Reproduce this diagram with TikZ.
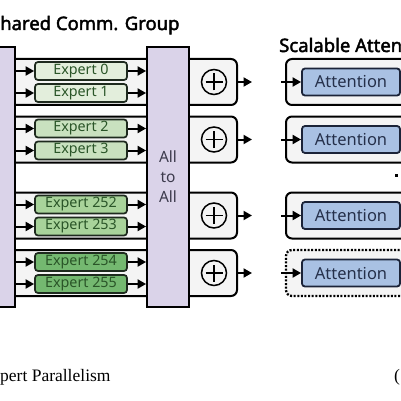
\documentclass[tikz,border=0pt]{standalone}
\usepackage{fontspec}
\setmainfont{Noto Sans}
\newfontfamily\headfont{Noto Sans}[FakeBold=2.2]
\newfontfamily\capfont{Liberation Serif}
\usetikzlibrary{arrows.meta}

\definecolor{barpurple}{HTML}{DAD3E9}
\definecolor{bartext}{HTML}{3C3A4C}
\definecolor{framegray}{HTML}{F4F4F4}
\definecolor{expA}{HTML}{E3EEDC}
\definecolor{expB}{HTML}{C9E1BF}
\definecolor{expC}{HTML}{A8D39A}
\definecolor{expD}{HTML}{74B870}
\definecolor{expline}{HTML}{1E2A1E}
\definecolor{exptext}{HTML}{2A5528}
\definecolor{attfill}{HTML}{A9C1E3}
\definecolor{attline}{HTML}{1B2338}
\definecolor{atttext}{HTML}{25304A}

\tikzset{
  title/.style={font=\headfont\fontsize{18.5}{18.5}\selectfont, inner sep=0pt},
  caption/.style={font=\capfont\fontsize{17.5}{17.5}\selectfont, inner sep=0pt},
  bar/.style={draw=black, fill=barpurple, line width=1.8pt, minimum height=260pt, inner sep=0pt},
  frame/.style={draw=black, fill=framegray, line width=2pt, rounded corners=6pt, minimum height=46pt, inner sep=0pt},
  dotframe/.style={dash pattern=on 2pt off 1.6pt, line width=2.3pt},
  expert/.style={draw=expline, line width=1.7pt, rounded corners=3pt, minimum width=92pt, minimum height=18pt,
    inner sep=0pt, text=exptext, font=\fontsize{14.3}{14.3}\selectfont},
  attn/.style={draw=attline, fill=attfill, line width=1.8pt, rounded corners=3pt, minimum width=98pt,
    minimum height=27pt, inner sep=0pt, text=atttext, font=\fontsize{16.5}{16.5}\selectfont},
  sum/.style={circle, draw=black, line width=1.5pt, minimum size=25pt, inner sep=0pt,
    path picture={\draw[line width=1.5pt]
      ([xshift=-8.5pt]path picture bounding box.center) -- ([xshift=8.5pt]path picture bounding box.center)
      ([yshift=-8.5pt]path picture bounding box.center) -- ([yshift=8.5pt]path picture bounding box.center);}},
  flow/.style={-{Triangle[length=8.5pt,width=9pt]}, line width=2pt},
}

\begin{document}
\begin{tikzpicture}[x=1pt, y=-1pt]
  \useasboundingbox (0,0) rectangle (401,401);
  \clip (0,0) rectangle (401,401);

  % headings
  \node[title, anchor=base west] (commtitle) at (0,30) {hared Comm. Group};
  \node[title, anchor=base west] (attntitle) at (279,52) {Scalable Atten};

  % group frames, sums and attention blocks
  \foreach \i/\y/\dsh in {1/82/solid, 2/139.5/solid, 3/215.5/solid, 4/273/dotframe}{
    \node[frame, minimum width=232pt] (grp\i) at (121,\y) {};
    \node[sum] (sum\i) at (214,\y) {};
    \node[frame, \dsh, minimum width=134pt] (blk\i) at (353,\y) {};
    \node[attn] (att\i) at (351,\y) {Attention};
    \coordinate (out\i) at (252,\y);
    \coordinate (in\i) at (281,\y);
    \draw[flow] (grp\i.east) -- (out\i);
    \draw[flow] (in\i) -- (att\i);
  }

  % all-to-all bars
  \node[bar, minimum width=40pt] (lbar) at (-5,177) {};
  \node[bar, minimum width=42pt, align=center, text=bartext,
        font=\fontsize{15.5}{20}\selectfont] (mid) at (168,177) {All\\to\\All};

  % experts
  \foreach \i/\y/\a/\b/\fc in {1/82/0/1/expA, 2/139.5/2/3/expB, 3/215.5/252/253/expC, 4/273/254/255/expD}{
    \node[expert, fill=\fc] (ex\a) at (81,\y-11) {Expert \a};
    \node[expert, fill=\fc] (ex\b) at (81,\y+11) {Expert \b};
    \foreach \e in {\a,\b}{
      \draw[flow] (lbar.east |- ex\e) -- (ex\e);
      \draw[flow] (ex\e) -- (mid.west |- ex\e);
    }
  }

  \node[fill=black, minimum size=3pt, inner sep=0pt] (vdot) at (396,175) {};

  % caption
  \node[caption, anchor=base west] (eptext) at (0,381) {pert Parallelism};
  \node[caption, anchor=base west] (nexttext) at (394,381) {(};
\end{tikzpicture}
\end{document}
